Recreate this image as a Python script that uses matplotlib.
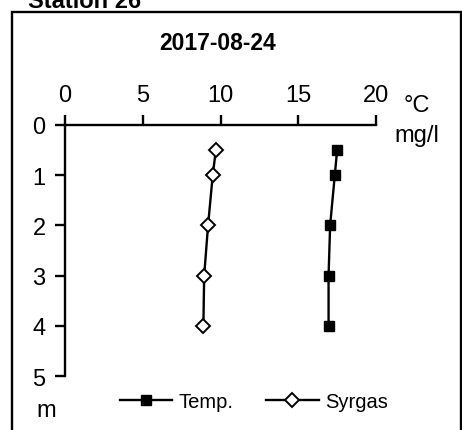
import matplotlib.pyplot as plt

plt.rcParams['font.family'] = ['Liberation Sans', 'DejaVu Sans']

depth = [0.5, 1, 2, 3, 4]
temp = [17.5, 17.35, 17.05, 16.95, 16.95]
syrgas = [9.7, 9.5, 9.2, 8.95, 8.9]
xticks = [0, 5, 10, 15, 20]
yticks = [0, 1, 2, 3, 4, 5]

W, H = 462, 431
fig = plt.figure(figsize=(W / 100, H / 100), dpi=100)

# outer frame (bottom edge falls outside the picture)
frame = plt.Rectangle((12 / W, -0.05), (W - 13) / W, 1.05 - 13 / H, transform=fig.transFigure,
                      fill=False, lw=1.7, color='black')
fig.patches.append(frame)

fig.text(28 / W, 1 - 8 / H, 'Station 26', fontsize=17, fontweight='bold', ha='left', va='baseline')
fig.text(218 / W, 1 - 44 / H, '2017-08-24', fontsize=16.5, fontweight='bold', ha='center', va='center')

ax = fig.add_axes([65 / W, 1 - 377 / H, (376 - 65) / W, (377 - 126) / H])
ax.plot(temp, depth, color='black', lw=1.7, marker='s', markersize=7,
        markerfacecolor='black', label='Temp.')
ax.plot(syrgas, depth, color='black', lw=1.7, marker='D', markersize=7,
        markerfacecolor='white', markeredgewidth=1.4, label='Syrgas')

ax.set_xlim(0, 20)
ax.set_ylim(5, 0)
ax.set_xticks(xticks)
ax.set_yticks(yticks)
ax.xaxis.tick_top()
ax.tick_params(axis='both', direction='out', length=7, width=1.7, labelsize=17, pad=7)
for s in ['right', 'bottom']:
    ax.spines[s].set_visible(False)
for s in ['top', 'left']:
    ax.spines[s].set_linewidth(1.7)

fig.text(417 / W, 1 - 106 / H, '°C', fontsize=17, ha='center', va='center')
fig.text(417 / W, 1 - 136 / H, 'mg/l', fontsize=17, ha='center', va='center')
fig.text(46 / W, 1 - 411 / H, 'm', fontsize=17, ha='center', va='center')

fig.legend(loc='center', bbox_to_anchor=(254 / W, 1 - 403 / H), ncol=2, frameon=False,
           fontsize=14.5, handlelength=2.6, handletextpad=0.35, columnspacing=1.6)

fig.savefig('out.png', dpi=100)
